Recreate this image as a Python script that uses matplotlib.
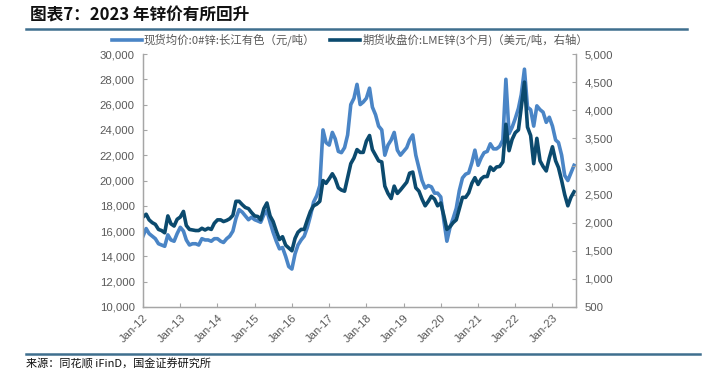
import numpy as np
import pandas as pd
import matplotlib
matplotlib.use("Agg")
import matplotlib.pyplot as plt
import matplotlib.dates as mdates
from matplotlib.lines import Line2D
from matplotlib.ticker import FuncFormatter

plt.rcParams['font.family'] = ['Liberation Sans', 'Noto Sans CJK SC', 'DejaVu Sans']

# ----------------------------
# data (monthly)
# ----------------------------
months = pd.date_range("2012-01-01", "2023-08-01", freq="MS")

# 现货均价:0#锌:长江有色 (元/吨), left axis
spot_cny = [
    15600, 16200, 15800, 15600, 15400, 15000, 14900, 14800, 15700, 15300, 15200, 15800,  # 2012
    16300, 16000, 15300, 14900, 15000, 15000, 14900, 15400, 15300, 15300, 15200, 15400,  # 2013
    15400, 15200, 15100, 15400, 15600, 16000, 17000, 17700, 17500, 17200, 16900, 17100,  # 2014
    16900, 16800, 16700, 17300, 17600, 16700, 15900, 15200, 14600, 14700, 14000, 13200,  # 2015
    13000, 14200, 14900, 15300, 15600, 16300, 17200, 18300, 18800, 19600, 24000, 23000,  # 2016
    22800, 23800, 23300, 22300, 22200, 22600, 23600, 26000, 26500, 27600, 26000, 26200,  # 2017
    26500, 27300, 25800, 25200, 24300, 24000, 22000, 22800, 23200, 23800, 22400, 22000,  # 2018
    22300, 22600, 23200, 23600, 22000, 21000, 20000, 19400, 19600, 19500, 19000, 19000,  # 2019
    18700, 16800, 15200, 16300, 17000, 17800, 19200, 20200, 20500, 20600, 21400, 22400,  # 2020
    21200, 21800, 22200, 22300, 22900, 22500, 22500, 22700, 23200, 28000, 23700, 24200,  # 2021
    24900, 25700, 26800, 28800, 25800, 25600, 24300, 25900, 25600, 25400, 24600, 25000,  # 2022
    24300, 23200, 23000, 22000, 20400, 20000, 20600, 21200,                              # 2023
]

# 期货收盘价:LME锌(3个月) (美元/吨), right axis
lme_usd = [
    2100, 2150, 2050, 2000, 1970, 1880, 1860, 1820, 2120, 1980, 1940, 2060,  # 2012
    2100, 2200, 1950, 1880, 1870, 1860, 1860, 1900, 1870, 1900, 1880, 1990,  # 2013
    2050, 2050, 2020, 2040, 2070, 2130, 2380, 2380, 2320, 2270, 2250, 2180,  # 2014
    2120, 2110, 2050, 2250, 2350, 2120, 2020, 1850, 1700, 1750, 1600, 1550,  # 2015
    1500, 1720, 1830, 1880, 1880, 2050, 2200, 2300, 2330, 2380, 2750, 2700,  # 2016
    2780, 2870, 2780, 2620, 2580, 2560, 2800, 3050, 3150, 3300, 3250, 3250,  # 2017
    3450, 3550, 3300, 3200, 3100, 3080, 2650, 2520, 2430, 2650, 2520, 2580,  # 2018
    2650, 2720, 2880, 2900, 2620, 2560, 2420, 2300, 2380, 2470, 2420, 2300,  # 2019
    2350, 2120, 1880, 1930, 2000, 2050, 2250, 2450, 2450, 2530, 2700, 2800,  # 2020
    2680, 2780, 2820, 2820, 2990, 2930, 2990, 3000, 3080, 3750, 3280, 3480,  # 2021
    3600, 3650, 4050, 4500, 3700, 3550, 3050, 3500, 3100, 3000, 2920, 3150,  # 2022
    3350, 3100, 2980, 2750, 2500, 2300, 2450, 2550,                          # 2023
]

year_ticks = pd.date_range("2012-01-01", "2023-01-01", freq="YS")

light = "#4a85c6"
dark = "#0b4a6e"
grey = "#595959"
rule = "#3f6f8e"
cjk = ["Noto Sans CJK SC", "DejaVu Sans"]

fig = plt.figure(figsize=(7.06, 3.71), dpi=100)
ax = fig.add_axes([143 / 706, 1 - 307 / 371, 433 / 706, 253 / 371])
ax2 = ax.twinx()

ax.plot(months, spot_cny, color=light, lw=2.6, solid_joinstyle="round")
ax2.plot(months, lme_usd, color=dark, lw=2.6, solid_joinstyle="round")

ax.set_xlim(pd.Timestamp("2012-01-01"), pd.Timestamp("2023-08-20"))
ax.set_ylim(10000, 30000)
ax2.set_ylim(500, 5000)
ax.set_yticks(np.arange(10000, 30001, 2000))
ax2.set_yticks(np.arange(500, 5001, 500))

fmt = FuncFormatter(lambda v, p: f"{int(v):,}")
ax.yaxis.set_major_formatter(fmt)
ax2.yaxis.set_major_formatter(fmt)

ax.set_xticks(year_ticks)
ax.xaxis.set_major_formatter(mdates.DateFormatter("%b-%y"))
for lab in ax.get_xticklabels():
    lab.set_rotation(45)
    lab.set_ha("right")
    lab.set_rotation_mode("anchor")

for a in (ax, ax2):
    for s in a.spines.values():
        s.set_color("#a6a6a6")
        s.set_linewidth(0.9)
    a.spines["top"].set_visible(False)
    a.tick_params(direction="in", length=3, width=0.8, color="#a6a6a6",
                  labelsize=8.2, labelcolor=grey, pad=6)
ax.tick_params(axis="x", pad=4)

# ----------------------------
# legend
# ----------------------------
handles = [Line2D([], [], color=light, lw=2.6), Line2D([], [], color=dark, lw=2.6)]
labels = ["现货均价:0#锌:长江有色（元/吨）", "期货收盘价:LME锌(3个月)（美元/吨，右轴）"]
fig.legend(handles, labels, loc="center", bbox_to_anchor=(350 / 706, 1 - 40 / 371),
           ncol=2, frameon=False, handlelength=2.6, handletextpad=0.2,
           columnspacing=1.3, prop={"family": cjk, "size": 8.2})
for t in fig.legends[0].get_texts():
    t.set_color(grey)

# ----------------------------
# title, rules, source
# ----------------------------
fig.text(30 / 706, 1 - 16 / 371, "图表7：2023 年锌价有所回升", fontsize=12,
         fontweight="bold", style="italic", va="center", ha="left",
         family=cjk, color="#111111")
fig.add_artist(Line2D([26 / 706, 687 / 706], [1 - 29 / 371, 1 - 29 / 371],
                      color=rule, lw=1.8))
fig.add_artist(Line2D([26 / 706, 700 / 706], [1 - 354 / 371, 1 - 354 / 371],
                      color=rule, lw=1.8))
fig.text(26 / 706, 1 - 369.5 / 371, "来源：同花顺 iFinD，国金证券研究所", fontsize=8,
         va="bottom", ha="left", family=cjk, color="#111111")

fig.savefig("out.png", dpi=100)
